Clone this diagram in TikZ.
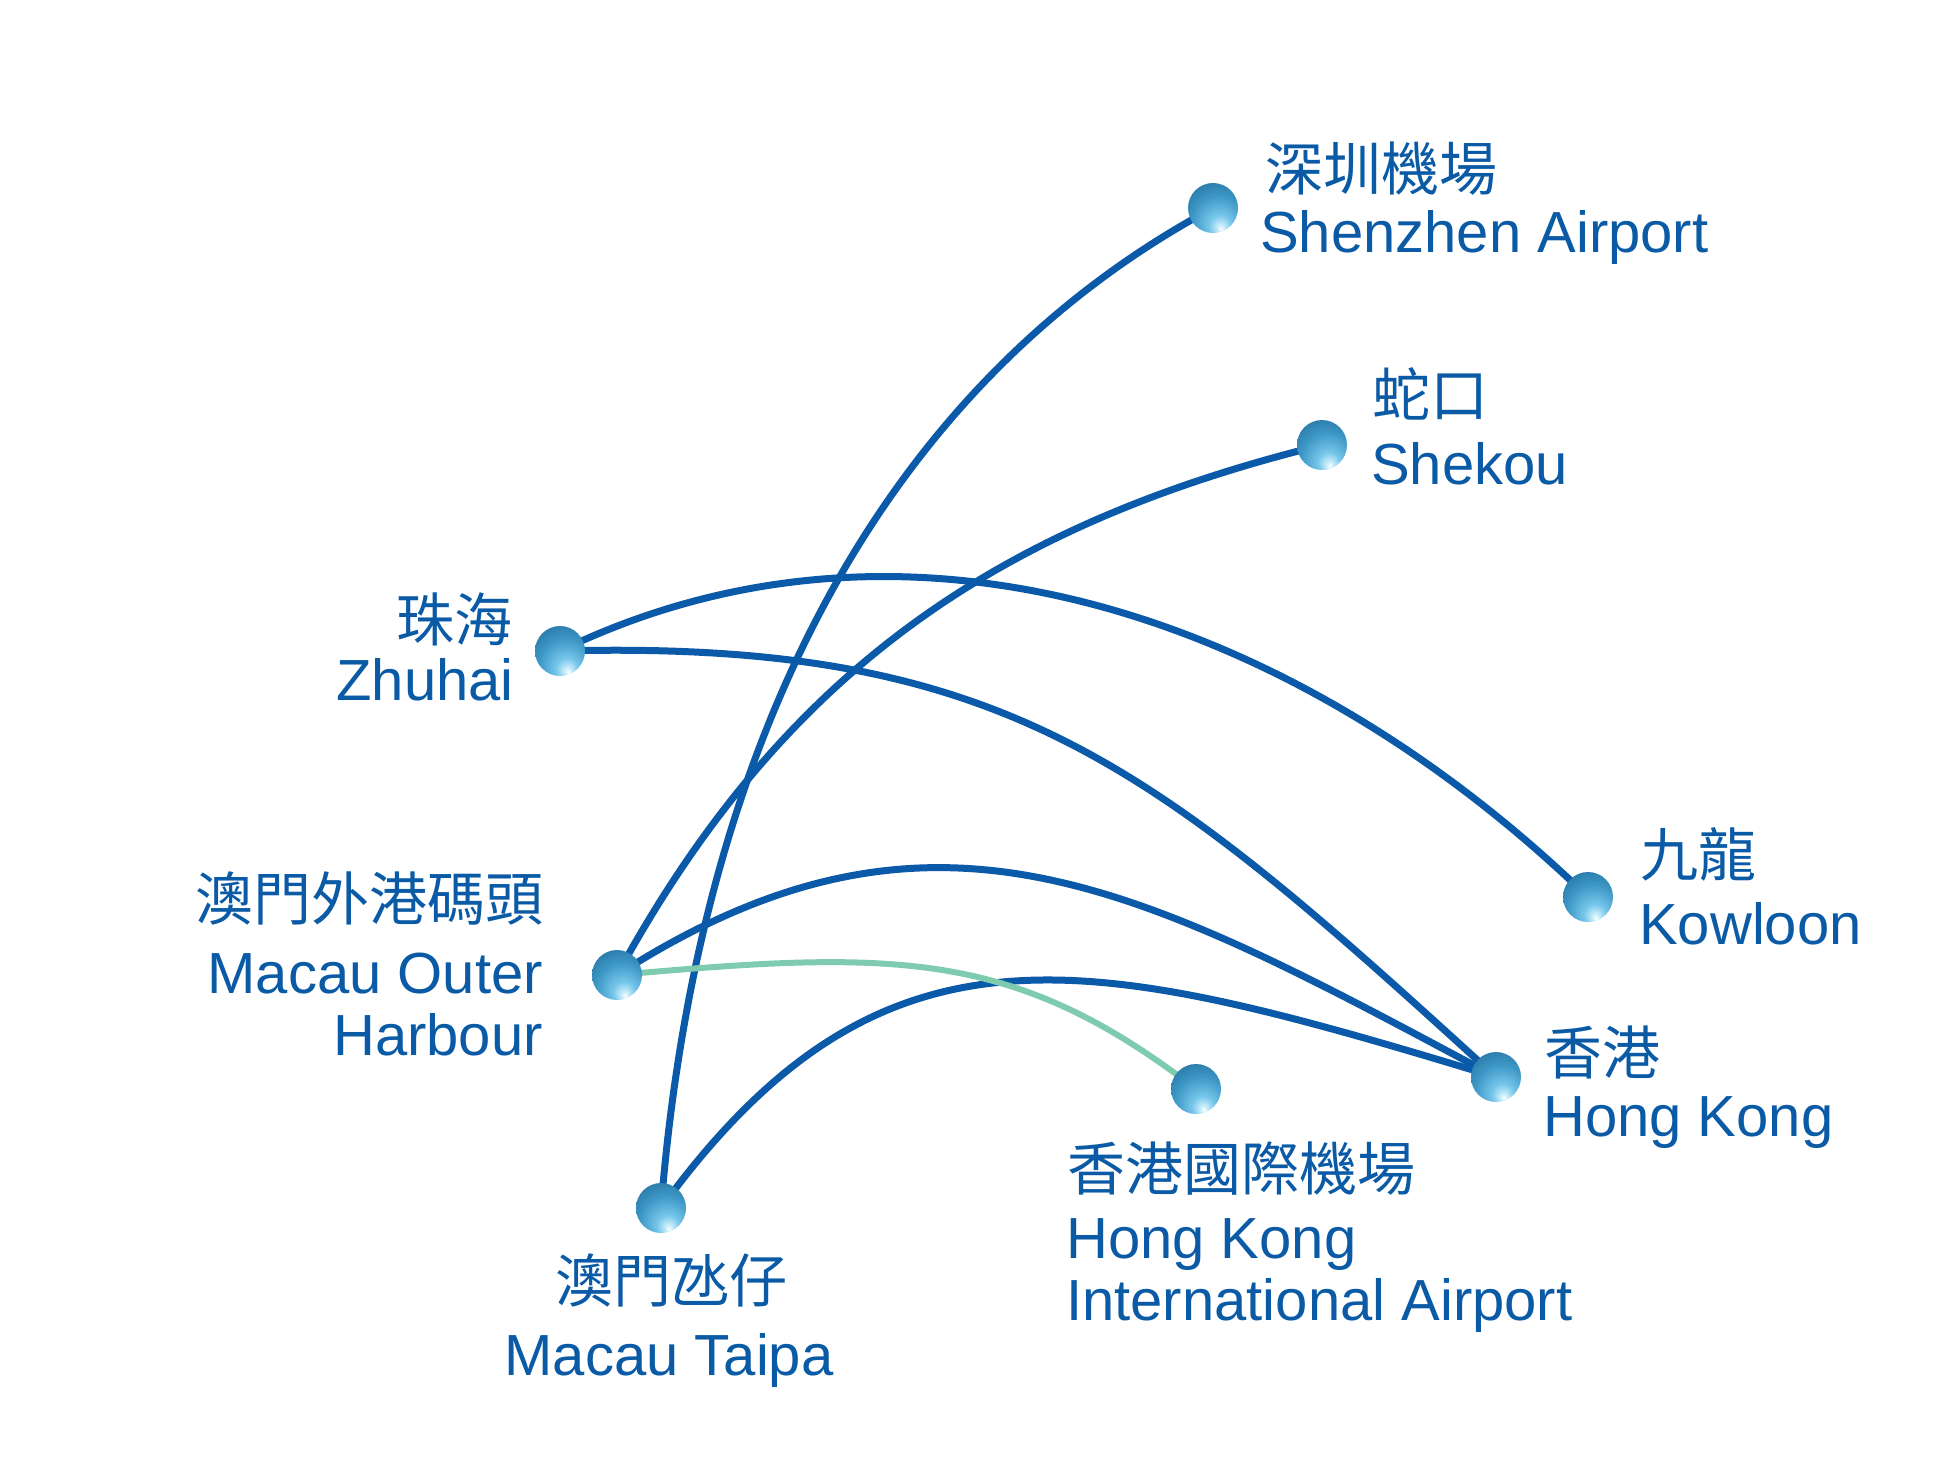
\documentclass[tikz,border=0pt]{standalone}
\usepackage{fontspec}
\setmainfont{Liberation Sans}
\newfontfamily\cjk{Noto Sans CJK TC}
\usetikzlibrary{backgrounds}
\definecolor{routeblue}{HTML}{0A5AA9}
\definecolor{routegreen}{HTML}{7FCBB0}
\definecolor{labelblue}{HTML}{0A5AA6}
\definecolor{dotA}{HTML}{CDEFFB}
\definecolor{dotB}{HTML}{76C6EA}
\definecolor{dotC}{HTML}{3D97C6}
\definecolor{dotD}{HTML}{1F6A98}
\definecolor{dotE}{HTML}{0C466C}
\pgfdeclareradialshading{dotball}{\pgfpoint{8bp}{-21bp}}{color(0bp)=(white);color(3bp)=(dotA);color(11bp)=(dotB);color(26bp)=(dotC);color(45bp)=(dotD);color(73bp)=(dotE)}
\begin{document}
\begin{tikzpicture}[x=1pt,y=-1pt,
  stationdot/.style={circle,minimum size=50pt,inner sep=0pt,shade,shading=dotball},
  route/.style={draw=routeblue,line width=7pt},
  ferry/.style={draw=routegreen,line width=6pt},
  cjklabel/.style={text=labelblue,font=\cjk\fontsize{58}{60}\selectfont,inner sep=0pt},
  latlabel/.style={text=labelblue,font=\fontsize{58}{60}\selectfont,inner sep=0pt}]
\useasboundingbox (0,0) rectangle (1952,1476);
% stations
\node[stationdot] (sz) at (1213,208) {};
\node[stationdot] (sk) at (1322,445) {};
\node[stationdot] (zh) at (560,651) {};
\node[stationdot] (kl) at (1588,897) {};
\node[stationdot] (moh) at (617,975) {};
\node[stationdot] (hk) at (1496,1077) {};
\node[stationdot] (hkia) at (1196,1089) {};
\node[stationdot] (tp) at (661,1208) {};
% routes
\begin{scope}[on background layer]
\draw[route] (tp.center) .. controls +(40,-500) and +(-308,165) .. (sz.center);
\draw[route] (moh.center) .. controls +(168,-308) and +(-320,79) .. (sk.center);
\draw[route] (zh.center) .. controls +(340,-165) and +(-300,-290) .. (kl.center);
\draw[route] (zh.center) .. controls +(450,-12) and +(-340,-310) .. (hk.center);
\draw[route] (moh.center) .. controls +(319,-205) and +(-352,-188) .. (hk.center);
\draw[route] (tp.center) .. controls +(224,-308) and +(-403,-122) .. (hk.center);
\draw[ferry] (moh.center) .. controls +(279,-25) and +(-182,-140) .. (hkia.center);
\end{scope}
% labels
\node[cjklabel,anchor=base west] (szc) at (1265,190) {深圳機場};
\node[latlabel,anchor=base west] (szl) at (1260,252) {Shenzhen Airport};
\node[cjklabel,anchor=base west] (skc) at (1372,416) {蛇口};
\node[latlabel,anchor=base west] (skl) at (1371,484) {Shekou};
\node[cjklabel,anchor=base east] (zhc) at (513,641) {珠海};
\node[latlabel,anchor=base east] (zhl) at (514,700) {Zhuhai};
\node[cjklabel,anchor=base west] (klc) at (1640,876) {九龍};
\node[latlabel,anchor=base west] (kll) at (1639,944) {Kowloon};
\node[cjklabel,anchor=base east] (mohc) at (544,920) {澳門外港碼頭};
\node[latlabel,anchor=base east] (mohl) at (543,993) {Macau Outer};
\node[latlabel,anchor=base east] (mohm) at (543,1055) {Harbour};
\node[cjklabel,anchor=base west] (hkc) at (1544,1074) {香港};
\node[latlabel,anchor=base west] (hkl) at (1543,1136) {Hong Kong};
\node[cjklabel,anchor=base west] (hkiac) at (1067,1190) {香港國際機場};
\node[latlabel,anchor=base west] (hkial) at (1066,1258) {Hong Kong};
\node[latlabel,anchor=base west] (hkiam) at (1066,1320) {International Airport};
\node[cjklabel,anchor=base] (tpc) at (671,1302) {澳門氹仔};
\node[latlabel,anchor=base] (tpl) at (669,1375) {Macau Taipa};
\end{tikzpicture}
\end{document}
